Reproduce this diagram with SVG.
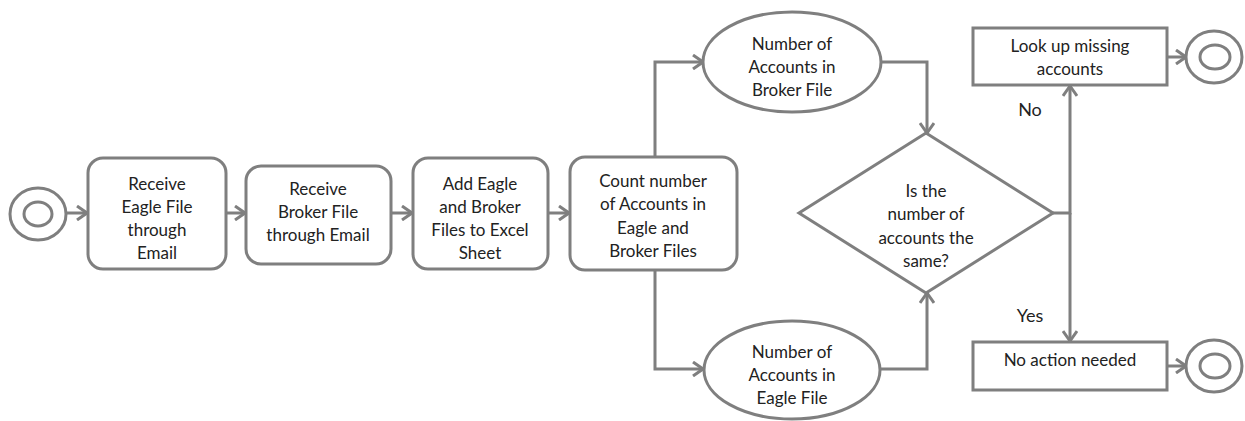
<svg xmlns="http://www.w3.org/2000/svg" width="1245" height="421" viewBox="0 0 1245 421">
<defs>
<marker id="arr" viewBox="0 0 12 16" refX="11" refY="8" markerWidth="12" markerHeight="16" markerUnits="userSpaceOnUse" orient="auto">
<path d="M1,1 L11,8 L1,15" fill="none" stroke="#7f7f7f" stroke-width="3"/>
</marker>
</defs>
<style>
.n{fill:#fff;stroke:#7f7f7f;stroke-width:3}
.c{fill:none;stroke:#7f7f7f;stroke-width:3;marker-end:url(#arr)}
text{font-family:Lato,"Liberation Sans",sans-serif;font-size:17px;fill:#222;text-anchor:middle}
.lbl{font-size:18px}
</style>
<rect width="1245" height="421" fill="#fff"/>
<g id="connectors">
<path class="c" d="M66,213 L87,213"/>
<path class="c" d="M226,213 L245,213"/>
<path class="c" d="M392,213 L412,213"/>
<path class="c" d="M549,213 L569,213"/>
<path class="c" d="M655,157 L655,62 L703,62"/>
<path class="c" d="M655,270 L655,369 L703,369"/>
<path class="c" d="M881,62 L927,62 L927,133"/>
<path class="c" d="M880,369 L927,369 L927,293"/>
<path class="c" d="M1053,213 L1070,213 L1070,86"/>
<path class="c" d="M1070,213 L1070,341"/>
<path class="c" d="M1167,57 L1186,57"/>
<path class="c" d="M1167,366 L1186,366"/>
</g>
<g id="start">
<ellipse class="n" cx="38" cy="214" rx="28" ry="26"/>
<ellipse class="n" cx="38" cy="214" rx="14" ry="12"/>
</g>
<g id="receive-eagle">
<rect class="n" x="88" y="158" width="138" height="111" rx="15"/>
<text x="157" y="190">Receive</text>
<text x="157" y="213">Eagle File</text>
<text x="157" y="236">through</text>
<text x="157" y="259">Email</text>
</g>
<g id="receive-broker">
<rect class="n" x="246" y="166" width="145" height="98" rx="15"/>
<text x="318" y="195">Receive</text>
<text x="318" y="218">Broker File</text>
<text x="318" y="241">through Email</text>
</g>
<g id="add-files">
<rect class="n" x="413" y="158" width="135" height="111" rx="15"/>
<text x="480" y="190">Add Eagle</text>
<text x="480" y="213">and Broker</text>
<text x="480" y="236">Files to Excel</text>
<text x="480" y="259">Sheet</text>
</g>
<g id="count">
<rect class="n" x="570" y="157" width="167" height="113" rx="15"/>
<text x="653" y="187">Count number</text>
<text x="653" y="210">of Accounts in</text>
<text x="653" y="234">Eagle and</text>
<text x="653" y="257">Broker Files</text>
</g>
<g id="broker-count">
<ellipse class="n" cx="792" cy="62" rx="89" ry="50"/>
<text x="792" y="50">Number of</text>
<text x="792" y="73">Accounts in</text>
<text x="792" y="96">Broker File</text>
</g>
<g id="eagle-count">
<ellipse class="n" cx="792" cy="370" rx="88" ry="49"/>
<text x="792" y="358">Number of</text>
<text x="792" y="381">Accounts in</text>
<text x="792" y="404">Eagle File</text>
</g>
<g id="decision">
<polygon class="n" points="926,133 1053,213 926,293 799,213"/>
<text x="926" y="197">Is the</text>
<text x="926" y="220">number of</text>
<text x="926" y="244">accounts the</text>
<text x="926" y="267">same?</text>
</g>
<g id="lookup">
<rect class="n" x="973" y="28" width="194" height="57"/>
<text x="1070" y="52">Look up missing</text>
<text x="1070" y="75">accounts</text>
</g>
<g id="no-action">
<rect class="n" x="973" y="342" width="194" height="48"/>
<text x="1070" y="366">No action needed</text>
</g>
<g id="end-top">
<ellipse class="n" cx="1214" cy="57" rx="28" ry="26"/>
<ellipse class="n" cx="1215" cy="57" rx="15" ry="12"/>
</g>
<g id="end-bottom">
<ellipse class="n" cx="1214" cy="366" rx="28" ry="26"/>
<ellipse class="n" cx="1215" cy="366" rx="15" ry="12"/>
</g>
<g id="edge-labels">
<text class="lbl" x="1030" y="116">No</text>
<text class="lbl" x="1030" y="322">Yes</text>
</g>
</svg>
